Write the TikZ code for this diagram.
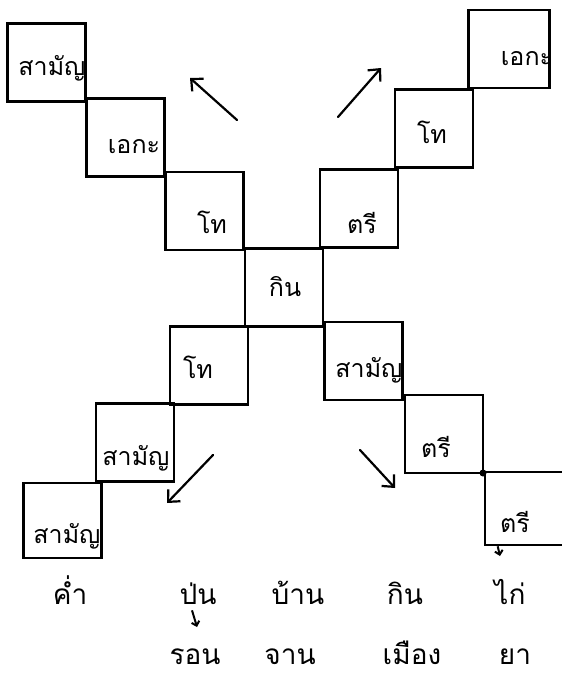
\documentclass[tikz,border=0pt]{standalone}
\usepackage{fontspec}
\newfontfamily\thaifont[Script=Thai]{Loma}
\usetikzlibrary{arrows.meta}
\begin{document}
\begin{tikzpicture}[x=1pt,y=-1pt,
  cell/.style={draw,line width=2.6pt,minimum width=78pt,minimum height=78pt,inner sep=0pt},
  word/.style={font=\thaifont\fontsize{25}{30}\selectfont,inner sep=0pt,anchor=base},
  bigword/.style={font=\thaifont\fontsize{28}{32}\selectfont,inner sep=0pt,anchor=base},
  pointer/.style={line width=2.2pt,line cap=round,-{Straight Barb[length=9pt,width=17pt,line width=2.2pt]}},
  tick/.style={line width=2pt,-{Straight Barb[length=4pt,width=8pt]}}]
\useasboundingbox (0,0) rectangle (562,675);
\fill[white] (0,0) rectangle (562,675);
% boxes
\node[cell] (a1) at (46.5,62.5) {};
\node[cell] (a2) at (125.5,137.5) {};
\node[cell] (a3) at (204.5,211) {};
\node[cell] (k)  at (284,287.5) {};
\node[cell] (b1) at (359,208.5) {};
\node[cell] (b2) at (434,128.5) {};
\node[cell,minimum width=81pt] (b3) at (509,49) {};
\node[cell] (c1) at (209,365.5) {};
\node[cell] (c2) at (135,442.5) {};
\node[cell,minimum height=75pt] (c3) at (62.5,520.5) {};
\node[cell] (d1) at (363.5,361) {};
\node[cell] (d2) at (444,434) {};
\node[cell,minimum height=73pt] (d3) at (524,508.5) {};
% box texts
\node[word] (ta1) at (52,75) {สามัญ};
\node[word] (ta2) at (134,153) {เอกะ};
\node[word] (ta3) at (212,233) {โท};
\node[word] (tk)  at (285,296) {กิน};
\node[word] (tb1) at (362,233) {ตรี};
\node[word] (tb2) at (432,143) {โท};
\node[word] (tb3) at (527,65) {เอกะ};
\node[word] (tc1) at (198,378) {โท};
\node[word] (tc2) at (136,465) {สามัญ};
\node[word] (tc3) at (67,543) {สามัญ};
\node[word] (td1) at (369,377) {สามัญ};
\node[word] (td2) at (436,457) {ตรี};
\node[word] (td3) at (515,532) {ตรี};
% direction arrows
\coordinate (nwS) at (237,120); \coordinate (nwE) at (190,78);
\coordinate (neS) at (338,117); \coordinate (neE) at (381,68);
\coordinate (swS) at (213,455); \coordinate (swE) at (167,503);
\coordinate (seS) at (360,450); \coordinate (seE) at (395,488);
\draw[pointer] (nwS) -- (nwE);
\draw[pointer] (neS) -- (neE);
\draw[pointer] (swS) -- (swE);
\draw[pointer] (seS) -- (seE);
% bottom words
\node[bigword] (w1) at (70,604) {ค่ำ};
\node[bigword] (w2) at (198,604) {ป่น};
\node[bigword] (w3) at (298,604) {บ้าน};
\node[bigword] (w4) at (405,604) {กิน};
\node[bigword] (w5) at (510,604) {ไก่};
\node[bigword] (v2) at (195,664) {รอน};
\node[bigword] (v3) at (290,664) {จาน};
\node[bigword] (v4) at (412,664) {เมือง};
\node[bigword] (v5) at (515,664) {ยา};
\coordinate (pe) at (197,627);
\draw[tick] (w2.south) ++(-6,6) -- (pe);
\coordinate (de) at (500,556);
\draw[tick] (d3.south west) ++(14,0) -- (de);
\fill (483,473) circle (3.5pt);
\end{tikzpicture}
\end{document}
